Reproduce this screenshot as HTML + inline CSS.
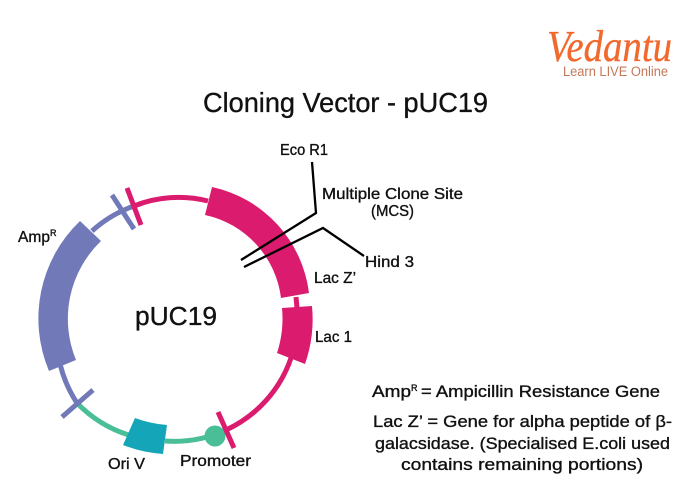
<!DOCTYPE html>
<html><head><meta charset="utf-8"><style>
html,body{margin:0;padding:0;background:#fff}
svg{display:block}
text{font-family:"Liberation Sans",sans-serif;fill:#111;stroke:#111;stroke-width:.35}
</style></head><body>
<svg width="690" height="500" viewBox="0 0 690 500" xmlns="http://www.w3.org/2000/svg">
<g fill="none" stroke-width="5">
<path d="M134 206 A120 120 0 0 1 208 201" stroke="#db1b6d"/>
<path d="M296 297 L297 308" stroke="#db1b6d"/>
<path d="M291 358 A123 123 0 0 1 226 430" stroke="#db1b6d"/>
<path d="M226 430 A124 124 0 0 1 165 441" stroke="#4abf97"/>
<path d="M140 438 A125 125 0 0 1 77 403" stroke="#4abf97"/>
<path d="M92 231 A122 122 0 0 1 134 206" stroke="#7179b9"/>
<path d="M60 364 A125 125 0 0 0 77 403" stroke="#7179b9"/>
</g>
<path d="M212 187 A124 124 0 0 1 309 293 L281 298 A97 97 0 0 0 205 215 Z" fill="#db1b6d"/>
<path d="M282 308 L312 306 A136 136 0 0 1 305 364 L277 353 A110 110 0 0 0 282 308 Z" fill="#db1b6d"/>
<path d="M80 221 L101 241 A108 108 0 0 0 76 360 L49 371 A135 135 0 0 1 80 221 Z" fill="#7179b9"/>
<path d="M135 418 A115 115 0 0 0 167 425 L163 454 A135 135 0 0 1 123 445 Z" fill="#14a5b8"/>
<circle cx="215" cy="436" r="10.5" fill="#4abf97"/>
<g fill="none" stroke-width="5">
<path d="M112 195 L134 229" stroke="#7179b9"/>
<path d="M127 188 L141 225" stroke="#db1b6d"/>
<path d="M62 417 L93 390" stroke="#7179b9"/>
<path d="M218 412 L234 448" stroke="#db1b6d"/>
</g>
<g fill="none" stroke="#000" stroke-width="2.3">
<path d="M312 162 L316 213 L241 260"/>
<path d="M244 267 L323 228 L364 256"/>
</g>
<g lengthAdjust="spacingAndGlyphs">
<text x="203" y="112" font-size="27.5" textLength="285" lengthAdjust="spacingAndGlyphs">Cloning Vector - pUC19</text>
<text x="135" y="325" font-size="25.5" textLength="82" lengthAdjust="spacingAndGlyphs">pUC19</text>
<text x="280" y="155" font-size="15.5" textLength="48" lengthAdjust="spacingAndGlyphs">Eco R1</text>
<text x="322" y="199" font-size="15.5" textLength="141" lengthAdjust="spacingAndGlyphs">Multiple Clone Site</text>
<text x="371" y="216" font-size="15.5" textLength="43" lengthAdjust="spacingAndGlyphs">(MCS)</text>
<text x="365" y="267" font-size="15.5" textLength="49" lengthAdjust="spacingAndGlyphs">Hind 3</text>
<text x="314" y="283" font-size="15.5" textLength="42" lengthAdjust="spacingAndGlyphs">Lac Z’</text>
<text x="315" y="342" font-size="15.5" textLength="37" lengthAdjust="spacingAndGlyphs">Lac 1</text>
<text x="18" y="242" font-size="15.5" textLength="32" lengthAdjust="spacingAndGlyphs">Amp</text>
<text x="50" y="236" font-size="9">R</text>
<text x="108" y="469" font-size="15.5" textLength="37" lengthAdjust="spacingAndGlyphs">Ori V</text>
<text x="180" y="466" font-size="15.5" textLength="71" lengthAdjust="spacingAndGlyphs">Promoter</text>
<text x="372" y="397" font-size="16.5" textLength="39" lengthAdjust="spacingAndGlyphs">Amp</text>
<text x="411" y="391" font-size="9">R</text>
<text x="421" y="397" font-size="16.5" textLength="239" lengthAdjust="spacingAndGlyphs">= Ampicillin Resistance Gene</text>
<text x="373" y="427" font-size="16.5" textLength="299" lengthAdjust="spacingAndGlyphs">Lac Z’ = Gene for alpha peptide of β-</text>
<text x="375" y="449" font-size="16.5" textLength="295" lengthAdjust="spacingAndGlyphs">galacsidase. (Specialised E.coli used</text>
<text x="401" y="470" font-size="16.5" textLength="242" lengthAdjust="spacingAndGlyphs">contains remaining portions)</text>
<text x="547" y="61" font-size="44" textLength="125" lengthAdjust="spacingAndGlyphs" style="fill:#f2692d;stroke:#f2692d;font-family:'Liberation Serif',serif;font-style:italic">Vedantu</text>
<text x="563" y="76" font-size="13.5" textLength="105" lengthAdjust="spacingAndGlyphs" style="fill:#c4785a;stroke:none">Learn LIVE Online</text>
</g>
</svg>
</body></html>
